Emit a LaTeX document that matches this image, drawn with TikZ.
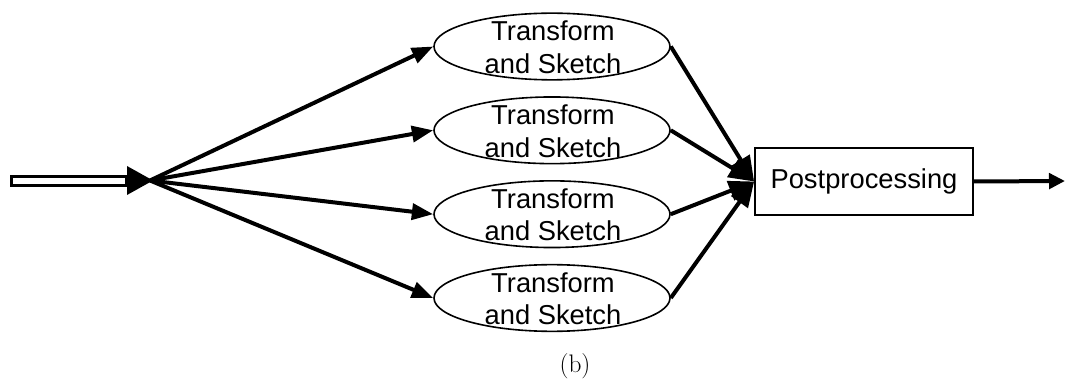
\documentclass[tikz,border=0pt]{standalone}
\usepackage{fontspec}
\newfontfamily\arialf{Liberation Sans}
\usetikzlibrary{arrows.meta,shapes.geometric}
\begin{document}
\begin{tikzpicture}[x=0.75pt,y=-0.75pt,
  tsk/.style={draw,ellipse,line width=1.2pt,minimum width=177pt,minimum height=50pt,inner sep=0pt},
  lbl/.style={font=\arialf\fontsize{20.5}{24.5}\selectfont,inner sep=0pt,anchor=base},
  conn/.style={line width=3pt,-{Triangle[length=16pt,width=12pt]}},
  conn2/.style={line width=3pt,-{Triangle[length=19pt,width=15pt]}},
]
\useasboundingbox (0,0) rectangle (1065,381);
% ellipses
\foreach \i/\y in {1/46.5,2/130.3,3/214.2,4/298}{
  \node[tsk] (e\i) at (552,\y) {};
  \node[lbl] (ta\i) at (553,\y-5.8) {Transform};
  \node[lbl] (tb\i) at (553,\y+26.8) {and Sketch};
}
% postprocessing box
\node[draw,line width=1.3pt,minimum width=163.5pt,minimum height=50pt,inner sep=0pt,
  font=\arialf\fontsize{20.5}{24.5}\selectfont] (pp) at (864,181.5) {Postprocessing};
% input
\node[draw,fill=white,line width=2.4pt,minimum width=86pt,minimum height=6.5pt,inner sep=0pt] (inbar) at (69,181) {};
\coordinate (hub) at (153,180.5);
\fill (127,166) -- (hub) -- (127,195) -- cycle;
% fan out
\foreach \i in {1,2,3,4}{
  \draw[conn] (150,180.5) -- (e\i.west);
  \draw[conn2] (e\i.east) -- (pp.west);
}
% output
\coordinate (out) at (1065,181);
\draw[line width=3pt,-{Triangle[length=12pt,width=11.5pt]}] (pp.east) -- (out);
% caption
\node[font=\fontsize{19}{23}\selectfont,inner sep=0pt,anchor=base] (cap) at (575,373) {(b)};
\end{tikzpicture}
\end{document}
